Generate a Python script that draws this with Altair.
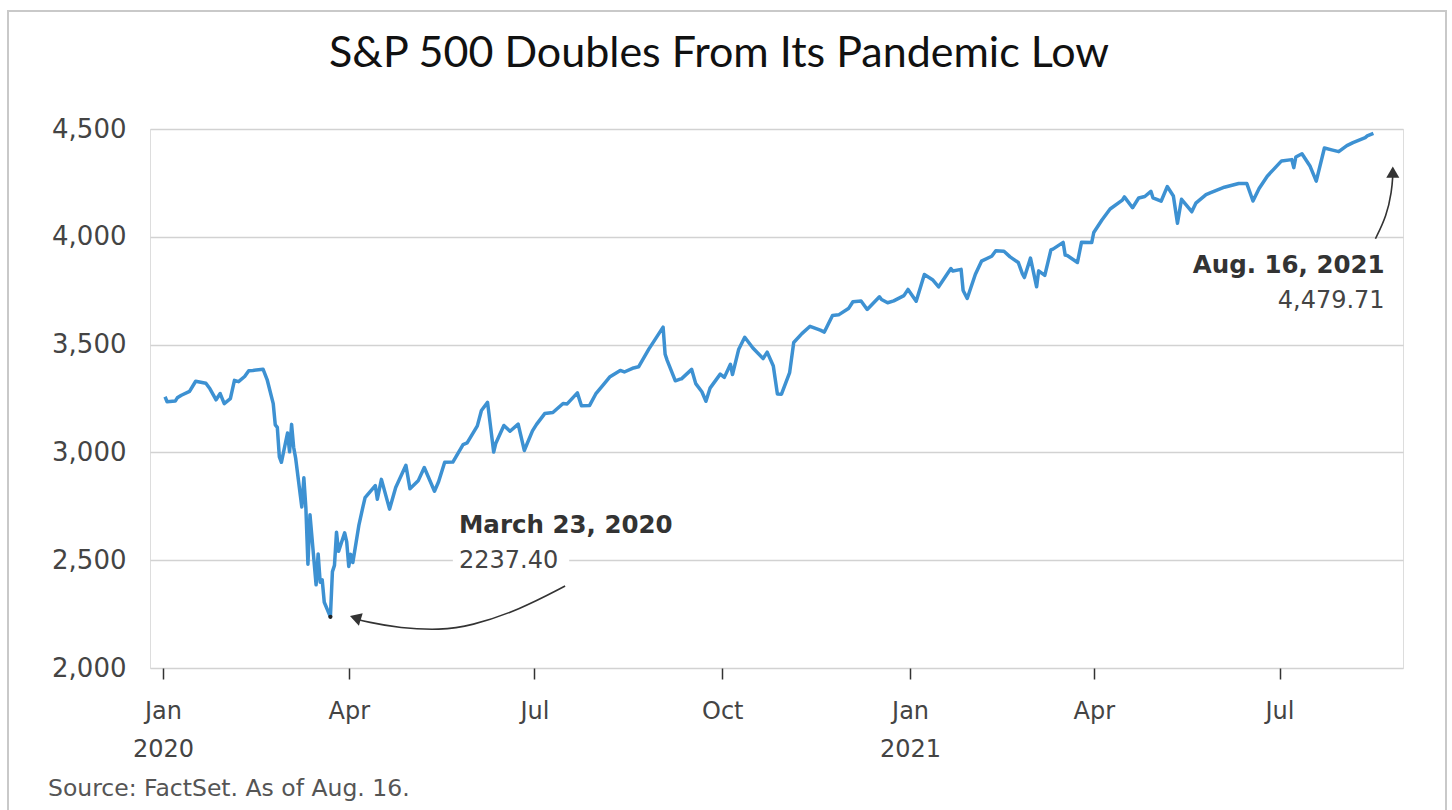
import altair as alt
import pandas as pd

# ---- S&P 500 closes ----
dates = [
    "2020-01-02","2020-01-03","2020-01-07","2020-01-08","2020-01-10","2020-01-14","2020-01-17","2020-01-22",
    "2020-01-24","2020-01-27","2020-01-29","2020-01-31","2020-02-03","2020-02-05","2020-02-07","2020-02-10",
    "2020-02-12","2020-02-14","2020-02-19","2020-02-21","2020-02-24","2020-02-25","2020-02-26","2020-02-27",
    "2020-02-28","2020-03-02","2020-03-03","2020-03-04","2020-03-05","2020-03-06","2020-03-09","2020-03-10",
    "2020-03-11","2020-03-12","2020-03-13","2020-03-16","2020-03-17","2020-03-18","2020-03-19","2020-03-20",
    "2020-03-23","2020-03-24","2020-03-25","2020-03-26","2020-03-27","2020-03-30","2020-03-31","2020-04-01",
    "2020-04-02","2020-04-03","2020-04-06","2020-04-08","2020-04-09","2020-04-14","2020-04-15","2020-04-17",
    "2020-04-21","2020-04-24","2020-04-29","2020-05-01","2020-05-05","2020-05-08","2020-05-13","2020-05-15",
    "2020-05-18","2020-05-22","2020-05-27","2020-05-29","2020-06-03","2020-06-05","2020-06-08","2020-06-11",
    "2020-06-12","2020-06-16","2020-06-19","2020-06-23","2020-06-26","2020-06-30","2020-07-02","2020-07-06",
    "2020-07-10","2020-07-15","2020-07-17","2020-07-22","2020-07-24","2020-07-28","2020-07-31","2020-08-05",
    "2020-08-07","2020-08-12","2020-08-14","2020-08-18","2020-08-21","2020-08-26","2020-08-28","2020-09-02",
    "2020-09-03","2020-09-04","2020-09-08","2020-09-10","2020-09-11","2020-09-16","2020-09-18","2020-09-21",
    "2020-09-23","2020-09-25","2020-09-30","2020-10-02","2020-10-05","2020-10-06","2020-10-09","2020-10-12",
    "2020-10-16","2020-10-21","2020-10-23","2020-10-26","2020-10-28","2020-10-30","2020-11-03","2020-11-05",
    "2020-11-09","2020-11-13","2020-11-18","2020-11-20","2020-11-24","2020-11-27","2020-12-02","2020-12-04",
    "2020-12-08","2020-12-11","2020-12-17","2020-12-18","2020-12-21","2020-12-24","2020-12-29","2020-12-31",
    "2021-01-04","2021-01-08","2021-01-12","2021-01-15","2021-01-21","2021-01-22","2021-01-26","2021-01-27",
    "2021-01-29","2021-02-02","2021-02-05","2021-02-10","2021-02-12","2021-02-16","2021-02-19","2021-02-23",
    "2021-02-25","2021-02-26","2021-03-01","2021-03-04","2021-03-05","2021-03-08","2021-03-11","2021-03-12",
    "2021-03-17","2021-03-18","2021-03-19","2021-03-24","2021-03-26","2021-03-31","2021-04-01","2021-04-05",
    "2021-04-09","2021-04-15","2021-04-16","2021-04-20","2021-04-23","2021-04-26","2021-04-29","2021-04-30",
    "2021-05-04","2021-05-07","2021-05-10","2021-05-12","2021-05-14","2021-05-18","2021-05-19","2021-05-21",
    "2021-05-26","2021-05-28","2021-06-04","2021-06-11","2021-06-15","2021-06-18","2021-06-21","2021-06-25",
    "2021-07-02","2021-07-07","2021-07-08","2021-07-09","2021-07-12","2021-07-16","2021-07-19","2021-07-23",
    "2021-07-27","2021-07-30","2021-08-03","2021-08-06","2021-08-12","2021-08-13","2021-08-16",
]
closes = [
    3258,3235,3238,3253,3265,3283,3330,3321,
    3295,3244,3273,3226,3249,3334,3328,3352,
    3379,3380,3386,3338,3226,3128,3116,2979,
    2954,3090,3003,3130,3024,2972,2747,2882,
    2741,2481,2711,2386,2529,2398,2409,2305,
    2237.40,2447,2476,2630,2541,2627,2585,2471,
    2527,2489,2664,2750,2790,2846,2783,2875,
    2737,2837,2940,2831,2868,2930,2820,2864,
    2954,2955,3036,3044,3123,3194,3232,3002,
    3041,3125,3098,3131,3009,3100,3130,3180,
    3185,3227,3225,3276,3216,3218,3271,3328,
    3351,3380,3373,3390,3397,3479,3508,3581,
    3455,3427,3332,3339,3341,3385,3319,3281,
    3237,3298,3363,3348,3409,3361,3477,3534,
    3484,3435,3465,3401,3271,3270,3370,3510,
    3551,3585,3567,3558,3635,3638,3669,3699,
    3702,3663,3722,3709,3694,3703,3727,3756,
    3701,3825,3801,3768,3853,3841,3849,3751,
    3714,3826,3887,3910,3935,3933,3907,3881,
    3829,3811,3901,3768,3842,3821,3939,3943,
    3974,3915,3913,3881,3975,3973,4020,4078,
    4129,4170,4185,4135,4180,4187,4211,4181,
    4165,4233,4189,4063,4174,4128,4116,4156,
    4196,4204,4230,4247,4247,4166,4224,4281,
    4352,4358,4321,4370,4385,4327,4258,4412,
    4402,4395,4423,4437,4460,4468,4479.71,
]

# ---- texts ----
title_text = "S&P 500 Doubles From Its Pandemic Low"
source_text = "Source: FactSet. As of Aug. 16."
y_ticks = [2000, 2500, 3000, 3500, 4000, 4500]

# annotation: March 23, 2020 (left aligned)
low_label = ["March 23, 2020", "2237.40"]
low_label_date = "2020-05-25T00:00:00Z"
low_label_vals = [2627, 2465]
# annotation: Aug. 16, 2021 (right aligned)
end_label = ["Aug. 16, 2021", "4,479.71"]
end_label_date = "2021-08-21T12:00:00Z"
end_label_vals = [3832, 3672]

# curved arrows (data coordinates)
arrow1_dates = ["2020-07-16T00:00:00Z","2020-06-23T12:00:00Z","2020-05-30T12:00:00Z",
                "2020-05-16T00:00:00Z","2020-04-26T00:00:00Z","2020-04-10T00:00:00Z","2020-04-03T00:00:00Z"]
arrow1_vals = [2380, 2269, 2194, 2176, 2185, 2213, 2232]
arrow2_dates = ["2021-08-17T00:00:00Z","2021-08-22T12:00:00Z","2021-08-25T00:00:00Z",
                "2021-08-25T12:00:00Z","2021-08-25T12:00:00Z"]
arrow2_vals = [3991, 4097, 4213, 4282, 4300]
head_dates = ["2020-04-04T06:00:00Z", "2021-08-25T12:00:00Z"]
head_vals = [2233, 4300]
head_shapes = ["triangle-left", "triangle-up"]
head_angles = [17, 0]

line_df = pd.DataFrame({"date": dates, "close": closes})
lowtxt_df = pd.DataFrame({"date": [low_label_date] * 2, "v": low_label_vals, "t": low_label,
                          "w": ["bold", "normal"]})
endtxt_df = pd.DataFrame({"date": [end_label_date] * 2, "v": end_label_vals, "t": end_label,
                          "w": ["bold", "normal"]})
arrows_df = pd.DataFrame({
    "date": arrow1_dates + arrow2_dates,
    "v": arrow1_vals + arrow2_vals,
    "arrow": ["a"] * len(arrow1_dates) + ["b"] * len(arrow2_dates),
    "order": list(range(len(arrow1_dates))) + list(range(len(arrow2_dates))),
})
heads_df = pd.DataFrame({"date": head_dates, "v": head_vals, "shape": head_shapes, "angle": head_angles})
low_df = pd.DataFrame({"date": ["2020-03-23"], "close": [2237.40]})
bg_df = pd.DataFrame({"d1": ["2020-05-22T00:00:00Z"], "d2": ["2020-07-18T00:00:00Z"],
                      "v1": [2420], "v2": [2545]})

FONT = "DejaVu Sans"
TITLE_FONT = "Lato"
BLUE = "#3d91d2"

x_scale = alt.Scale(type="utc",
                    domain=[alt.DateTime(year=2019, month=12, date=25, hours=15, utc=True),
                            alt.DateTime(year=2021, month=8, date=30, hours=12, utc=True)])
y_scale = alt.Scale(domain=[2000, 4500], nice=False, zero=False)

x_axis = alt.Axis(
    values=[alt.DateTime(year=2020, month=1, date=1, utc=True),
            alt.DateTime(year=2020, month=4, date=1, utc=True),
            alt.DateTime(year=2020, month=7, date=1, utc=True),
            alt.DateTime(year=2020, month=10, date=1, utc=True),
            alt.DateTime(year=2021, month=1, date=1, utc=True),
            alt.DateTime(year=2021, month=4, date=1, utc=True),
            alt.DateTime(year=2021, month=7, date=1, utc=True)],
    labelExpr="utcmonth(datum.value) == 0 ? [utcFormat(datum.value, '%b'), utcFormat(datum.value, '%Y')] : utcFormat(datum.value, '%b')",
    title=None, grid=False, domain=False,
    ticks=True, tickSize=11, tickWidth=1.5, tickColor="#333",
    labelFont=FONT, labelFontSize=24, labelColor="#444", labelPadding=20,
    labelLineHeight=38, labelBaseline="top", labelOverlap=False, labelFlush=False,
)
y_axis = alt.Axis(values=y_ticks, format=",d", title=None, domain=False, ticks=False,
                  grid=True, gridColor="#d2d2d2", gridWidth=1.5,
                  labelFont=FONT, labelFontSize=26, labelColor="#444", labelPadding=24)

frame = alt.Chart(pd.DataFrame({"k": [0]})).mark_rect(
    fill=None, stroke="#c9c9c9", strokeWidth=2
).encode(x=alt.value(-142), x2=alt.value(1296), y=alt.value(-118), y2=alt.value(720))

title = alt.Chart(pd.DataFrame({"t": [title_text]})).mark_text(
    font=TITLE_FONT, fontSize=43, color="#111", align="center", baseline="alphabetic"
).encode(x=alt.value(569), y=alt.value(-62), text="t:N")

source = alt.Chart(pd.DataFrame({"t": [source_text]})).mark_text(
    font=FONT, fontSize=23.5, color="#555", align="left", baseline="alphabetic"
).encode(x=alt.value(-102), y=alt.value(667), text="t:N")

line = alt.Chart(line_df).mark_line(color=BLUE, strokeWidth=3.5, strokeJoin="round").encode(
    x=alt.X("date:T", scale=x_scale, axis=x_axis),
    y=alt.Y("close:Q", scale=y_scale, axis=y_axis),
)

bg = alt.Chart(bg_df).mark_rect(color="white").encode(
    x=alt.X("d1:T", scale=x_scale), x2="d2:T",
    y=alt.Y("v1:Q", scale=y_scale), y2="v2:Q",
)

low = alt.Chart(low_df).mark_point(filled=True, color="#222", size=18, opacity=1).encode(
    x="date:T", y="close:Q")

arrows = alt.Chart(arrows_df).mark_line(color="#333", strokeWidth=1.6, interpolate="basis").encode(
    x="date:T", y="v:Q", detail="arrow:N", order="order:Q")

heads = alt.Chart(heads_df).mark_point(filled=True, color="#333", opacity=1, size=170).encode(
    x="date:T", y="v:Q",
    shape=alt.Shape("shape:N", scale=None),
    angle=alt.Angle("angle:Q", scale=None),
)


def label_layer(df, align):
    bold = alt.Chart(df).transform_filter("datum.w == 'bold'").mark_text(
        font=FONT, fontSize=24.5, fontWeight="bold", color="#333", align=align, baseline="alphabetic"
    ).encode(x="date:T", y="v:Q", text="t:N")
    norm = alt.Chart(df).transform_filter("datum.w == 'normal'").mark_text(
        font=FONT, fontSize=24, color="#444", align=align, baseline="alphabetic"
    ).encode(x="date:T", y="v:Q", text="t:N")
    return [bold, norm]


layers = ([frame, title, source, line, bg, low, arrows, heads]
          + label_layer(lowtxt_df, "left") + label_layer(endtxt_df, "right"))

chart = alt.layer(*layers).properties(
    width=1253, height=539,
    autosize=alt.AutoSizeParams(type="none"),
    padding={"left": 150, "top": 129, "right": 49, "bottom": 142},
).configure_view(stroke=None).configure(background="white")

chart.save("out.html", embed_options={"renderer": "svg", "actions": False})
